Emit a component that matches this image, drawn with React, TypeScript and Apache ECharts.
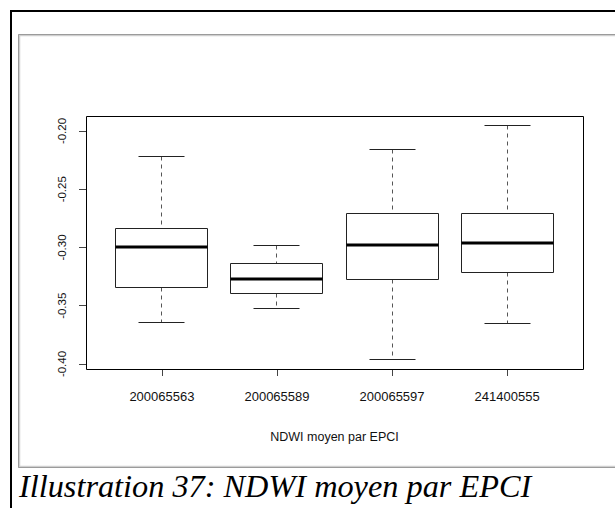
import React, { useEffect, useRef } from "react";
import * as echarts from "echarts";

const categories = ["200065563", "200065589", "200065597", "241400555"];
const whiskerLow = [-0.3644, -0.3521, -0.3962, -0.3653];
const quartile1 = [-0.3344, -0.3398, -0.3278, -0.3211];
const medians = [-0.3, -0.3269, -0.2977, -0.296];
const quartile3 = [-0.2833, -0.3134, -0.2704, -0.2704];
const whiskerHigh = [-0.2223, -0.2983, -0.2163, -0.1952];
const yTicks = [-0.4, -0.35, -0.3, -0.25, -0.2];
const xTitle = "NDWI moyen par EPCI";
const caption = "Illustration 37: NDWI moyen par EPCI";

const px = (v: number) => Math.round(v - 0.5) + 0.5;

export default function App() {
  const ref = useRef<HTMLDivElement>(null);
  useEffect(() => {
    if (!ref.current) return;
    const chart = echarts.init(ref.current, undefined, { renderer: "svg" });
    const data = categories.map((_, i) => [
      i,
      whiskerLow[i],
      quartile1[i],
      medians[i],
      quartile3[i],
      whiskerHigh[i],
    ]);
    const option: any = {
      animation: false,
      backgroundColor: "#ffffff",
      grid: {
        left: 104.4,
        top: 131,
        width: 460.2,
        height: 233,
        containLabel: false,
      },
      xAxis: {
        type: "category",
        data: categories,
        offset: 5,
        boundaryGap: true,
        axisLine: { show: false },
        axisTick: {
          show: true,
          alignWithLabel: true,
          length: 7,
          lineStyle: { color: "#444", width: 1 },
        },
        axisLabel: {
          margin: 21,
          fontFamily: "Liberation Sans, Arial, sans-serif",
          fontSize: 13,
          color: "#111",
        },
        name: xTitle,
        nameLocation: "middle",
        nameGap: 61,
        nameTextStyle: {
          fontFamily: "Liberation Sans, Arial, sans-serif",
          fontSize: 12.5,
          color: "#111",
        },
        splitLine: { show: false },
      },
      yAxis: {
        type: "value",
        min: yTicks[0],
        max: yTicks[yTicks.length - 1],
        interval: 0.05,
        offset: 18.4,
        axisLine: { show: true, lineStyle: { color: "#444", width: 1 } },
        axisTick: { show: true, length: 7, lineStyle: { color: "#444", width: 1 } },
        axisLabel: {
          rotate: 90,
          margin: 18,
          fontFamily: "Liberation Sans, Arial, sans-serif",
          fontSize: 11.5,
          color: "#111",
          formatter: (v: number) => v.toFixed(2),
        },
        splitLine: { show: false },
      },
      graphic: [
        {
          type: "rect",
          shape: { x: 11, y: 11, width: 700, height: 600 },
          style: { fill: "none", stroke: "#000", lineWidth: 2 },
          silent: true,
        },
        {
          type: "rect",
          shape: { x: 18.5, y: 34.5, width: 700, height: 433 },
          style: { fill: "none", stroke: "#8a8a8a", lineWidth: 1 },
          silent: true,
        },
        {
          type: "rect",
          shape: { x: 19.5, y: 35.5, width: 700, height: 431 },
          style: { fill: "none", stroke: "#cfcfcf", lineWidth: 1.5 },
          silent: true,
        },
        {
          type: "rect",
          shape: { x: 86.5, y: 116.5, width: 497, height: 253 },
          style: { fill: "none", stroke: "#000", lineWidth: 1 },
          silent: true,
          z: 10,
        },
        {
          type: "text",
          x: 19,
          y: 486,
          style: {
            text: caption,
            font: "italic 32.3px 'Liberation Serif', 'Times New Roman', serif",
            fill: "#000",
            verticalAlign: "middle",
            align: "left",
          },
          silent: true,
        },
      ],
      series: [
        {
          type: "custom",
          clip: false,
          encode: { x: 0, y: [1, 2, 3, 4, 5] },
          data,
          renderItem: (params: any, api: any) => {
            const idx = api.value(0);
            const lo = api.coord([idx, api.value(1)]);
            const q1 = api.coord([idx, api.value(2)]);
            const md = api.coord([idx, api.value(3)]);
            const q3 = api.coord([idx, api.value(4)]);
            const hi = api.coord([idx, api.value(5)]);
            const bw = api.size([1, 0])[0] * 0.8;
            const cx = px(lo[0]);
            const left = px(lo[0] - bw / 2);
            const right = px(lo[0] + bw / 2);
            const capL = px(lo[0] - bw / 4);
            const capR = px(lo[0] + bw / 4);
            const dash = { stroke: "#555", lineWidth: 1, lineDash: [4, 4] };
            const solid = { stroke: "#222", lineWidth: 1 };
            return {
              type: "group",
              children: [
                {
                  type: "line",
                  shape: { x1: cx, y1: px(hi[1]), x2: cx, y2: px(q3[1]) },
                  style: dash,
                },
                {
                  type: "line",
                  shape: { x1: cx, y1: px(q1[1]), x2: cx, y2: px(lo[1]) },
                  style: dash,
                },
                {
                  type: "line",
                  shape: { x1: capL, y1: px(hi[1]), x2: capR, y2: px(hi[1]) },
                  style: solid,
                },
                {
                  type: "line",
                  shape: { x1: capL, y1: px(lo[1]), x2: capR, y2: px(lo[1]) },
                  style: solid,
                },
                {
                  type: "rect",
                  shape: {
                    x: left,
                    y: px(q3[1]),
                    width: right - left,
                    height: px(q1[1]) - px(q3[1]),
                  },
                  style: { fill: "#fff", stroke: "#222", lineWidth: 1 },
                },
                {
                  type: "line",
                  shape: { x1: left, y1: Math.round(md[1]), x2: right, y2: Math.round(md[1]) },
                  style: { stroke: "#000", lineWidth: 3 },
                },
              ],
            };
          },
        },
      ],
    };
    chart.setOption(option);
    return () => chart.dispose();
  }, []);
  return (
    <div
      ref={ref}
      style={{ position: "fixed", left: 0, top: 0, width: 615, height: 508, background: "#fff" }}
    />
  );
}
